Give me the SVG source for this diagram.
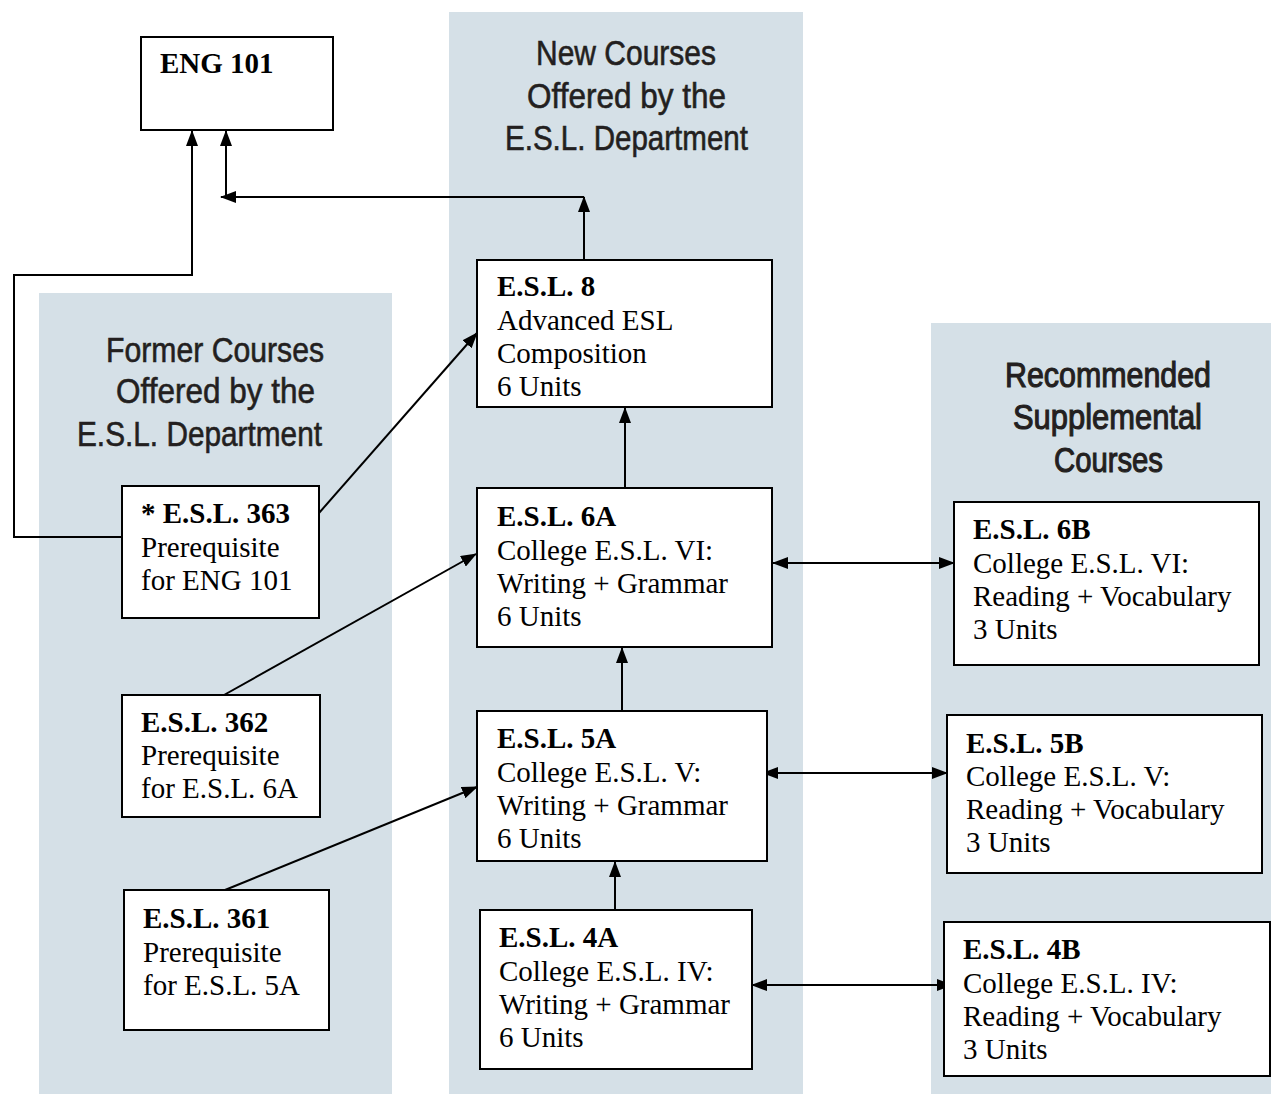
<svg xmlns="http://www.w3.org/2000/svg" width="1271" height="1094" viewBox="0 0 1271 1094">
<style>
.panel{fill:#d5e0e7;stroke:none}
.box{fill:#ffffff;stroke:#000000;stroke-width:2}
.t{font-family:"Liberation Serif","Times New Roman",serif;font-size:29px;fill:#000000}
.b{font-weight:bold}
.title{font-family:"Liberation Sans",Arial,sans-serif;font-size:35px;fill:#231f20;stroke:#231f20;stroke-width:0.6}
.heavy{stroke-width:1.1}
.c{fill:none;stroke:#000000;stroke-width:2}
.ca{fill:none;stroke:#000000;stroke-width:2;marker-end:url(#ah)}
.cd{fill:none;stroke:#000000;stroke-width:2;marker-start:url(#ah);marker-end:url(#ah)}
</style>
<defs>
<marker id="ah" markerUnits="userSpaceOnUse" markerWidth="16" markerHeight="12" refX="15" refY="6" orient="auto-start-reverse" viewBox="0 0 16 12">
<path d="M0,0 L16,6 L0,12 z" fill="#000000"/>
</marker>
</defs>
<rect width="1271" height="1094" fill="#ffffff"/>
<g id="panels">
<rect class="panel" x="39" y="293" width="353" height="801"/>
<rect class="panel" x="449" y="12" width="354" height="1082"/>
<rect class="panel" x="931" y="323" width="340" height="771"/>
</g>
<g id="titles">
<text class="title" x="106" y="362" textLength="218" lengthAdjust="spacingAndGlyphs">Former Courses</text>
<text class="title" x="116" y="403" textLength="199" lengthAdjust="spacingAndGlyphs">Offered by the</text>
<text class="title" x="77" y="446" textLength="245" lengthAdjust="spacingAndGlyphs">E.S.L. Department</text>
<text class="title" x="536" y="65" textLength="180" lengthAdjust="spacingAndGlyphs">New Courses</text>
<text class="title" x="527" y="108" textLength="199" lengthAdjust="spacingAndGlyphs">Offered by the</text>
<text class="title" x="505" y="150" textLength="243" lengthAdjust="spacingAndGlyphs">E.S.L. Department</text>
<text class="title heavy" x="1005" y="387" textLength="206" lengthAdjust="spacingAndGlyphs">Recommended</text>
<text class="title heavy" x="1013" y="429" textLength="189" lengthAdjust="spacingAndGlyphs">Supplemental</text>
<text class="title heavy" x="1054" y="472" textLength="109" lengthAdjust="spacingAndGlyphs">Courses</text>
</g>
<g id="connectors">
<polyline class="ca" points="122,537 14,537 14,275 192,275 192,131"/>
<polyline class="ca" points="584,260 584,197"/>
<polyline class="ca" points="584,197 221,197"/>
<polyline class="ca" points="226,197 226,131"/>
<line class="ca" x1="319" y1="513" x2="477" y2="333"/>
<line class="ca" x1="224" y1="695" x2="476" y2="554"/>
<line class="ca" x1="225" y1="890" x2="477" y2="787"/>
<line class="ca" x1="625" y1="488" x2="625" y2="408"/>
<line class="ca" x1="622" y1="711" x2="622" y2="648"/>
<line class="ca" x1="615" y1="910" x2="615" y2="862"/>
<line class="cd" x1="773" y1="563" x2="954" y2="563"/>
<line class="cd" x1="763" y1="773" x2="947" y2="773"/>
<line class="cd" x1="752" y1="985" x2="952" y2="985"/>
</g>
<g id="eng101">
<rect class="box" x="141" y="37" width="192" height="93"/>
<text class="t b" x="160" y="73">ENG 101</text>
</g>
<g id="esl8">
<rect class="box" x="477" y="260" width="295" height="147"/>
<text class="t b" x="497" y="296">E.S.L. 8</text>
<text class="t" x="497" y="330">Advanced ESL</text>
<text class="t" x="497" y="363">Composition</text>
<text class="t" x="497" y="396">6 Units</text>
</g>
<g id="esl363">
<rect class="box" x="122" y="486" width="197" height="132"/>
<text class="t b" x="141" y="523">* E.S.L. 363</text>
<text class="t" x="141" y="557">Prerequisite</text>
<text class="t" x="141" y="590">for ENG 101</text>
</g>
<g id="esl362">
<rect class="box" x="122" y="695" width="198" height="122"/>
<text class="t b" x="141" y="732">E.S.L. 362</text>
<text class="t" x="141" y="765">Prerequisite</text>
<text class="t" x="141" y="798">for E.S.L. 6A</text>
</g>
<g id="esl361">
<rect class="box" x="124" y="890" width="205" height="140"/>
<text class="t b" x="143" y="928">E.S.L. 361</text>
<text class="t" x="143" y="962">Prerequisite</text>
<text class="t" x="143" y="995">for E.S.L. 5A</text>
</g>
<g id="esl6a">
<rect class="box" x="477" y="488" width="295" height="159"/>
<text class="t b" x="497" y="526">E.S.L. 6A</text>
<text class="t" x="497" y="560">College E.S.L. VI:</text>
<text class="t" x="497" y="593">Writing + Grammar</text>
<text class="t" x="497" y="626">6 Units</text>
</g>
<g id="esl5a">
<rect class="box" x="477" y="711" width="290" height="150"/>
<text class="t b" x="497" y="748">E.S.L. 5A</text>
<text class="t" x="497" y="782">College E.S.L. V:</text>
<text class="t" x="497" y="815">Writing + Grammar</text>
<text class="t" x="497" y="848">6 Units</text>
</g>
<g id="esl4a">
<rect class="box" x="480" y="910" width="272" height="159"/>
<text class="t b" x="499" y="947">E.S.L. 4A</text>
<text class="t" x="499" y="981">College E.S.L. IV:</text>
<text class="t" x="499" y="1014">Writing + Grammar</text>
<text class="t" x="499" y="1047">6 Units</text>
</g>
<g id="esl6b">
<rect class="box" x="954" y="502" width="305" height="163"/>
<text class="t b" x="973" y="539">E.S.L. 6B</text>
<text class="t" x="973" y="573">College E.S.L. VI:</text>
<text class="t" x="973" y="606">Reading + Vocabulary</text>
<text class="t" x="973" y="639">3 Units</text>
</g>
<g id="esl5b">
<rect class="box" x="947" y="715" width="315" height="158"/>
<text class="t b" x="966" y="753">E.S.L. 5B</text>
<text class="t" x="966" y="786">College E.S.L. V:</text>
<text class="t" x="966" y="819">Reading + Vocabulary</text>
<text class="t" x="966" y="852">3 Units</text>
</g>
<g id="esl4b">
<rect class="box" x="944" y="922" width="326" height="154"/>
<text class="t b" x="963" y="959">E.S.L. 4B</text>
<text class="t" x="963" y="993">College E.S.L. IV:</text>
<text class="t" x="963" y="1026">Reading + Vocabulary</text>
<text class="t" x="963" y="1059">3 Units</text>
</g>
</svg>
